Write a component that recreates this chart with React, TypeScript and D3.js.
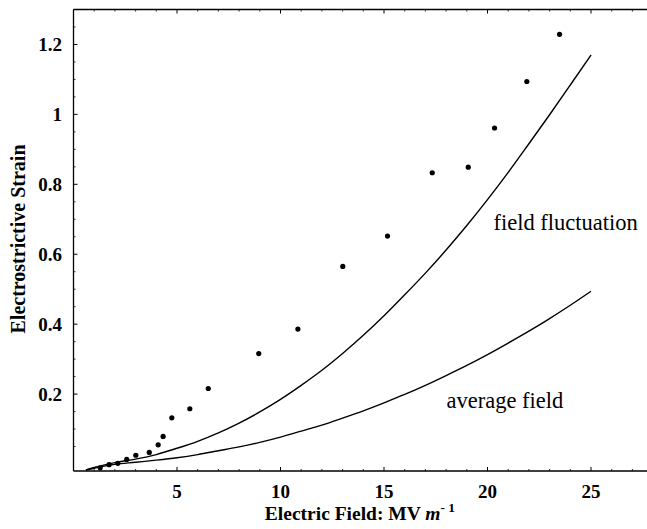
import React from "react";
import * as d3 from "d3";

const W = 647;
const H = 529;

// Measured points (electric field MV/m, strain)
const pointX = [1.29, 1.72, 2.14, 2.57, 3.01, 3.66, 4.09, 4.33, 4.75, 5.62, 6.51, 8.95, 10.84, 13.01, 15.17, 17.33, 19.07, 20.34, 21.9, 23.48];
const pointY = [-0.011, -0.002, 0.002, 0.013, 0.025, 0.033, 0.055, 0.079, 0.132, 0.158, 0.216, 0.316, 0.386, 0.565, 0.652, 0.833, 0.849, 0.961, 1.094, 1.229];

// Curves
const curveX = [0.6, 1, 2, 3, 4, 5, 6, 7, 8, 9, 10, 11, 12, 13, 14, 15, 16, 17, 18, 19, 20, 21, 22, 23, 24, 25];
const fluctuationY = [-0.017, -0.01, 0.004, 0.014, 0.027, 0.045, 0.065, 0.089, 0.117, 0.149, 0.185, 0.225, 0.268, 0.316, 0.368, 0.424, 0.484, 0.546, 0.612, 0.682, 0.756, 0.834, 0.916, 0.999, 1.084, 1.17];
const averageY = [-0.017, -0.012, -0.001, 0.005, 0.011, 0.018, 0.027, 0.038, 0.049, 0.062, 0.077, 0.094, 0.111, 0.131, 0.152, 0.175, 0.199, 0.225, 0.253, 0.282, 0.313, 0.346, 0.38, 0.416, 0.454, 0.494];

const xTicks = [5, 10, 15, 20, 25];
const yTicks = [0.2, 0.4, 0.6, 0.8, 1, 1.2];

const labelText = ["field fluctuation", "average field"];
const labelX = [20.29, 18.02];
const labelY = [0.669, 0.16];

const SERIF = "'Liberation Serif', 'Times New Roman', Times, serif";

export default function App() {
  const left = 73.5;
  const top = 9.5;
  const bottom = 471;
  const x = d3.scaleLinear().domain([0, 28]).range([left, left + 20.7 * 28]);
  const y = d3.scaleLinear().domain([-0.02, 1.3]).range([bottom, top]);

  const line = d3
    .line<number>()
    .x((_, i) => x(curveX[i]))
    .y((d) => y(d))
    .curve(d3.curveMonotoneX);

  const xMinor = d3.range(1, 28, 1).filter((v) => v % 5 !== 0);
  const yMinor = d3.range(0, 1.3, 0.05).filter((v) => Math.round(v * 100) % 20 !== 0);
  const right = x(28);

  return (
    <svg width={W} height={H} style={{ position: "absolute", left: 0, top: 0, background: "#fff" }}>
      <rect x={0} y={0} width={W} height={H} fill="#fff" />
      {/* frame */}
      <line x1={left} x2={right} y1={bottom} y2={bottom} stroke="#000" strokeWidth={1.3} />
      <line x1={left} x2={right} y1={top} y2={top} stroke="#000" strokeWidth={1.3} />
      <line x1={left} x2={left} y1={top} y2={bottom} stroke="#000" strokeWidth={1.3} />
      {/* x ticks */}
      {xTicks.map((t) => (
        <g key={"xt" + t}>
          <line x1={x(t)} x2={x(t)} y1={bottom} y2={bottom - 4} stroke="#000" strokeWidth={1} />
          <line x1={x(t)} x2={x(t)} y1={top} y2={top + 4} stroke="#000" strokeWidth={1} />
          <text x={x(t)} y={498} textAnchor="middle" fontFamily={SERIF} fontWeight="bold" fontSize={19}>
            {t}
          </text>
        </g>
      ))}
      {xMinor.map((t) => (
        <g key={"xm" + t}>
          <line x1={x(t)} x2={x(t)} y1={bottom} y2={bottom - 2} stroke="#000" strokeWidth={0.8} />
          <line x1={x(t)} x2={x(t)} y1={top} y2={top + 2} stroke="#000" strokeWidth={0.8} />
        </g>
      ))}
      {/* y ticks */}
      {yTicks.map((t) => (
        <g key={"yt" + t}>
          <line x1={left} x2={left + 4} y1={y(t)} y2={y(t)} stroke="#000" strokeWidth={1} />
          <text x={62} y={y(t)} dy="0.35em" textAnchor="end" fontFamily={SERIF} fontWeight="bold" fontSize={19}>
            {t}
          </text>
        </g>
      ))}
      {yMinor.map((t) => (
        <line key={"ym" + t} x1={left} x2={left + 2} y1={y(t)} y2={y(t)} stroke="#000" strokeWidth={0.8} />
      ))}
      {/* curves */}
      <path d={line(fluctuationY) || ""} fill="none" stroke="#000" strokeWidth={1.4} />
      <path d={line(averageY) || ""} fill="none" stroke="#000" strokeWidth={1.4} />
      {/* points */}
      {pointX.map((px, i) => (
        <circle key={"p" + i} cx={x(px)} cy={y(pointY[i])} r={2.6} fill="#000" />
      ))}
      {/* curve labels */}
      {labelText.map((s, i) => (
        <text key={s} x={x(labelX[i])} y={y(labelY[i])} fontFamily={SERIF} fontSize={22.5}>
          {s}
        </text>
      ))}
      {/* axis titles */}
      <text x={360} y={520} textAnchor="middle" fontFamily={SERIF} fontWeight="bold" fontSize={19.5}>
        Electric Field: MV <tspan fontStyle="italic">m</tspan>
        <tspan dy={-8} fontSize={13.5}>- 1</tspan>
      </text>
      <text
        transform={`translate(25, 239) rotate(-90)`}
        textAnchor="middle"
        fontFamily={SERIF}
        fontWeight="bold"
        fontSize={20}
      >
        Electrostrictive Strain
      </text>
    </svg>
  );
}
